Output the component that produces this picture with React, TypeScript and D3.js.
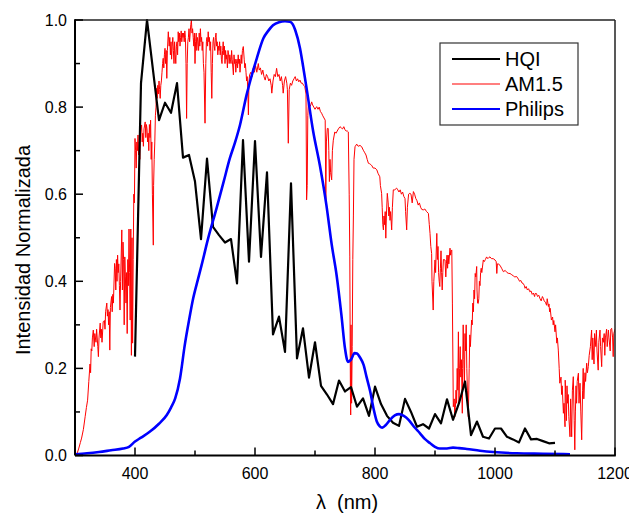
import React from 'react'
import * as d3 from 'd3'

// HQI lamp spectrum (nm, normalized intensity)
const hqiNm = [400, 410, 420, 430, 440, 450, 460, 470, 480, 490, 500, 510, 520, 530, 540, 550, 560, 570, 580, 590, 600, 610, 620, 630, 640, 650, 660, 670, 680, 690, 700, 710, 720, 730, 740, 750, 760, 770, 780, 790, 800, 810, 820, 830, 840, 850, 860, 870, 880, 890, 900, 910, 920, 930, 940, 950, 960, 970, 980, 990, 1000, 1010, 1020, 1030, 1040, 1050, 1060, 1070, 1080, 1090, 1100]
const hqiVal = [0.227, 0.855, 1.0, 0.885, 0.77, 0.81, 0.787, 0.855, 0.684, 0.69, 0.629, 0.497, 0.682, 0.525, 0.506, 0.489, 0.497, 0.395, 0.724, 0.445, 0.722, 0.456, 0.65, 0.278, 0.319, 0.238, 0.625, 0.223, 0.292, 0.179, 0.26, 0.16, 0.14, 0.118, 0.172, 0.147, 0.157, 0.112, 0.131, 0.091, 0.158, 0.118, 0.091, 0.075, 0.068, 0.13, 0.1, 0.066, 0.072, 0.062, 0.095, 0.074, 0.129, 0.082, 0.12, 0.17, 0.047, 0.078, 0.043, 0.039, 0.062, 0.062, 0.043, 0.037, 0.03, 0.062, 0.037, 0.038, 0.033, 0.028, 0.029]

// Philips lamp spectrum
const philipsNm = [300, 320, 340, 360, 380, 390, 400, 410, 425, 440, 453, 460, 467, 475, 483, 490, 497, 505, 511, 522, 536, 548, 558, 567, 575, 586, 592, 603, 614, 622, 630, 640, 650, 658, 663, 667, 675, 680, 686, 697, 708, 719, 728, 736, 744, 750, 755, 760, 766, 770, 775, 781, 786, 792, 798, 803, 808, 812, 818, 825, 833, 840, 848, 856, 865, 875, 883, 892, 900, 908, 920, 930, 940, 953, 975, 997, 1036, 1080, 1125]
const philipsVal = [0.003, 0.005, 0.008, 0.012, 0.016, 0.02, 0.032, 0.041, 0.055, 0.073, 0.093, 0.11, 0.131, 0.177, 0.254, 0.31, 0.361, 0.405, 0.437, 0.499, 0.568, 0.63, 0.682, 0.72, 0.759, 0.828, 0.86, 0.912, 0.958, 0.975, 0.988, 0.995, 0.997, 0.996, 0.99, 0.977, 0.935, 0.895, 0.843, 0.744, 0.667, 0.575, 0.483, 0.414, 0.323, 0.246, 0.215, 0.22, 0.235, 0.234, 0.225, 0.208, 0.18, 0.147, 0.105, 0.078, 0.067, 0.064, 0.07, 0.082, 0.092, 0.095, 0.091, 0.082, 0.066, 0.051, 0.038, 0.028, 0.02, 0.016, 0.016, 0.018, 0.017, 0.015, 0.011, 0.008, 0.005, 0.004, 0.003]

// AM1.5 solar spectrum [nm, value]
const am15: [number, number][] = [
  [300, 0.0], [303, 0.003], [306, 0.015], [309, 0.03], [311, 0.04], [314, 0.06], [317, 0.09], [319, 0.11], [321, 0.127], [323, 0.17], [325, 0.21], [326, 0.19], [327, 0.245], [328, 0.24], [329, 0.27], [330.5, 0.288], [332, 0.25], [333, 0.28], [335, 0.26], [336, 0.29], [338, 0.25], [339, 0.227], [340, 0.27], [342, 0.304], [343, 0.27], [344, 0.29], [345, 0.26], [347, 0.307], [349, 0.31], [350, 0.29], [351, 0.33], [353, 0.35], [354, 0.32], [355, 0.335], [356, 0.3], [357, 0.33], [358, 0.242], [359, 0.34], [361, 0.365], [362, 0.33], [363, 0.37], [364, 0.35], [366, 0.441], [367, 0.43], [368, 0.38], [369, 0.45], [370, 0.4], [371, 0.46], [372, 0.42], [373, 0.44], [374, 0.39], [375, 0.334], [376, 0.4], [378, 0.518], [379, 0.38], [380, 0.49], [381, 0.45], [382, 0.3], [383, 0.456], [384, 0.41], [385, 0.35], [386, 0.42], [387, 0.28], [388, 0.45], [389, 0.39], [390, 0.52], [391, 0.42], [392, 0.311], [393, 0.52], [394, 0.23], [395, 0.5], [396, 0.258], [397, 0.45], [398, 0.6], [399, 0.58],
  [400, 0.728], [401, 0.7], [402, 0.66], [403, 0.72], [404, 0.7], [405, 0.736], [406, 0.69], [407, 0.72], [408, 0.68], [409, 0.74], [411, 0.759], [412, 0.72], [413, 0.74], [414, 0.71], [415, 0.75], [417, 0.766], [418, 0.73], [419, 0.76], [420, 0.75], [421, 0.72], [422, 0.74], [423, 0.7], [424, 0.76], [425, 0.73], [426, 0.77], [427, 0.68], [428, 0.72], [429, 0.6], [430.5, 0.483], [431, 0.62], [432, 0.68], [433, 0.72], [434, 0.78], [435, 0.8], [436, 0.843], [437, 0.82], [438, 0.85], [439, 0.83], [440, 0.86], [441, 0.84], [442, 0.82], [443, 0.85], [444, 0.86], [445, 0.88], [446, 0.9], [447, 0.912], [448, 0.89], [449, 0.92], [450, 0.935], [451, 0.9], [452, 0.93], [453, 0.866], [454, 0.93], [455.5, 0.973], [457, 0.94], [458, 0.96], [459, 0.92], [460, 0.95], [461, 0.91], [462, 0.94], [463, 0.96], [464, 0.93], [465, 0.9], [466, 0.95], [467, 0.92], [468, 0.9], [469, 0.94], [470, 0.95], [471, 0.92], [472, 0.973], [473, 0.95], [474, 0.97], [475, 0.94], [476, 0.96], [477, 0.975], [478, 0.95], [479, 0.97], [480, 0.96], [481, 0.97], [482, 0.95], [483, 0.975], [484, 0.96], [485, 0.9], [486, 0.774], [487, 0.9], [488, 0.95], [489, 0.96], [490, 0.98], [491, 0.95], [492, 0.97], [493, 0.99], [494, 1.0], [495, 0.97], [496, 0.98], [497, 0.96], [498, 0.94], [499, 0.97],
  [500, 0.9], [501, 0.95], [502, 0.97], [503, 0.93], [504, 0.96], [505, 0.95], [506, 0.93], [507, 0.97], [508, 0.94], [509, 0.98], [510, 0.95], [511, 0.96], [512, 0.93], [513, 0.95], [514, 0.9], [515, 0.88], [516.7, 0.763], [518, 0.9], [519, 0.95], [520, 0.96], [521, 0.94], [522, 0.973], [523, 0.95], [524, 0.96], [525, 0.93], [526, 0.95], [527, 0.88], [528, 0.82], [529, 0.9], [530, 0.95], [531, 0.96], [532, 0.94], [533, 0.93], [534, 0.96], [535, 0.97], [536, 0.94], [537, 0.95], [538, 0.92], [539, 0.94], [540, 0.93], [541, 0.95], [542, 0.92], [543, 0.94], [544, 0.91], [545, 0.9], [546, 0.93], [547, 0.95], [548, 0.92], [549, 0.94], [550, 0.9], [551, 0.93], [552, 0.91], [553, 0.92], [554, 0.89], [555, 0.93], [556, 0.92], [557, 0.9], [558, 0.92], [559, 0.91], [560, 0.9], [561, 0.93], [562, 0.91], [564, 0.874], [565, 0.92], [566, 0.9], [567, 0.91], [568, 0.88], [569, 0.9], [570, 0.91], [571, 0.89], [572, 0.92], [573, 0.9], [574, 0.91], [575, 0.88], [576, 0.9], [577, 0.92], [578, 0.9], [579, 0.93], [580.5, 0.939], [582, 0.91], [583, 0.89], [584, 0.9], [585, 0.88], [586, 0.86], [587, 0.87], [588, 0.84], [589, 0.782], [590, 0.86], [591, 0.874], [593, 0.88], [595, 0.87], [597, 0.889], [599, 0.88],
  [601, 0.895], [603, 0.88], [605.5, 0.9], [607, 0.885], [609, 0.89], [611, 0.875], [613, 0.885], [615, 0.87], [617, 0.862], [619, 0.875], [621, 0.87], [623, 0.86], [625, 0.865], [627, 0.85], [628, 0.832], [630, 0.86], [632, 0.875], [634, 0.87], [636, 0.889], [638, 0.87], [640, 0.875], [642, 0.86], [644, 0.87], [646, 0.85], [647, 0.832], [649, 0.86], [651, 0.87], [653, 0.855], [654, 0.84], [655.5, 0.717], [657, 0.84], [659, 0.855], [661, 0.85], [663, 0.86], [665, 0.865], [667, 0.87], [669, 0.86], [671, 0.865], [673, 0.858], [675, 0.862], [677, 0.855], [679, 0.855], [681, 0.85], [683, 0.847], [685, 0.83], [686, 0.587], [687, 0.62], [688, 0.78], [689, 0.809], [691, 0.8], [693, 0.805], [694.5, 0.812], [696, 0.805], [698, 0.8], [700, 0.795], [702.8, 0.801], [705, 0.795], [707, 0.8], [709, 0.79], [711, 0.786], [713, 0.78], [715, 0.775], [717, 0.77], [718, 0.587], [719, 0.72], [720.5, 0.751], [722, 0.751], [723, 0.7], [724, 0.629], [725, 0.68], [726, 0.65], [727.8, 0.633], [729, 0.7], [730.5, 0.724], [733, 0.743], [735, 0.74], [737, 0.745], [739, 0.75], [741.7, 0.755], [744, 0.752], [746, 0.75], [748, 0.755], [750, 0.748], [752, 0.745], [754, 0.745], [755.5, 0.743], [757, 0.6], [758, 0.456], [759, 0.15], [759.5, 0.093], [760, 0.3], [761, 0.12], [762, 0.25], [763, 0.45], [764, 0.55], [765, 0.68], [766.7, 0.709], [769.5, 0.715], [772, 0.71], [775, 0.712], [777.8, 0.709], [780.5, 0.701], [783, 0.695], [785, 0.69], [787, 0.68], [789, 0.671], [791, 0.67], [793, 0.668], [795, 0.665], [797, 0.66],
  [800, 0.66], [803, 0.656], [805, 0.648], [808, 0.64], [809, 0.62], [811, 0.602], [812, 0.57], [813, 0.53], [814, 0.518], [815, 0.55], [816, 0.53], [817, 0.56], [818, 0.499], [819, 0.55], [820.5, 0.602], [822, 0.58], [823, 0.55], [824, 0.57], [825, 0.54], [826, 0.56], [827.8, 0.518], [829, 0.57], [830.5, 0.61], [833, 0.61], [836, 0.614], [838, 0.61], [840, 0.605], [842, 0.61], [844, 0.6], [846, 0.605], [848, 0.595], [850, 0.59], [851, 0.56], [852.8, 0.518], [854, 0.57], [856, 0.6], [858, 0.602], [860, 0.6], [862, 0.58], [864, 0.606], [866, 0.6], [868, 0.59], [870, 0.585], [872, 0.575], [874, 0.58], [876, 0.57], [878, 0.565], [880.5, 0.564], [883, 0.566], [886, 0.56], [889, 0.556], [890.5, 0.53], [891.7, 0.51], [893, 0.48], [894.4, 0.464], [895, 0.4], [897, 0.334], [898, 0.4], [900, 0.449], [901, 0.42], [903, 0.51], [904, 0.45], [905, 0.48], [906, 0.42], [907, 0.4], [908, 0.388], [909, 0.43], [910, 0.47], [911, 0.42], [912, 0.38], [913, 0.42], [914, 0.45], [916.7, 0.449], [918, 0.41], [919, 0.44], [920, 0.46], [921, 0.43], [922, 0.46], [923, 0.44], [925, 0.476], [926, 0.46], [927, 0.47], [928, 0.472], [929, 0.35], [930.5, 0.112], [932, 0.13], [933, 0.089], [934, 0.11], [935, 0.15], [936, 0.12], [937, 0.2], [938, 0.15], [939, 0.284], [940, 0.12], [941, 0.2], [942, 0.25], [943, 0.18], [944, 0.22], [945.5, 0.097], [946, 0.2], [947, 0.3], [948, 0.22], [949, 0.158], [950, 0.28], [951, 0.24], [952, 0.3], [953, 0.2], [954, 0.15], [955.5, 0.089], [957, 0.2], [958, 0.277], [959, 0.25], [961, 0.311], [962, 0.3], [963, 0.35], [964, 0.33], [965, 0.38], [966, 0.36], [967, 0.418], [968, 0.41], [969.5, 0.434], [970, 0.38], [971, 0.35], [972, 0.349], [973, 0.36], [974, 0.4], [975, 0.39], [976, 0.42], [977, 0.43], [978, 0.42], [980.5, 0.449], [982, 0.445], [984, 0.45], [986, 0.456], [988, 0.452], [990, 0.455], [991.7, 0.456], [994, 0.452], [997, 0.452],
  [1000, 0.449], [1002, 0.445], [1003, 0.418], [1004, 0.44], [1006, 0.44], [1009, 0.435], [1011, 0.43], [1014, 0.422], [1017, 0.425], [1020, 0.42], [1023, 0.418], [1025, 0.418], [1028, 0.415], [1031, 0.412], [1033, 0.41], [1036, 0.411], [1039, 0.405], [1041, 0.4], [1043, 0.402], [1045, 0.396], [1047, 0.395], [1049, 0.39], [1050, 0.384], [1052, 0.388], [1054, 0.38], [1056, 0.383], [1058, 0.376], [1060, 0.378], [1062, 0.37], [1064, 0.373], [1066, 0.365], [1067, 0.372], [1069, 0.372], [1071, 0.365], [1073, 0.368], [1075, 0.36], [1077, 0.355], [1079, 0.365], [1080.5, 0.361], [1082, 0.355], [1084, 0.352], [1086, 0.345], [1087, 0.36], [1089, 0.342], [1090, 0.348], [1091, 0.33], [1092, 0.338], [1094, 0.311], [1096, 0.318], [1097, 0.3], [1098, 0.31], [1100, 0.284], [1101, 0.3], [1103, 0.258], [1104, 0.27], [1105.5, 0.242], [1107, 0.2], [1108, 0.166], [1110, 0.18], [1111, 0.14], [1112, 0.16], [1114, 0.097], [1115, 0.12], [1116.7, 0.066], [1117, 0.173], [1118, 0.14], [1119, 0.08], [1120, 0.16], [1121, 0.12], [1122, 0.14], [1123, 0.09], [1125, 0.043], [1126, 0.13], [1127.8, 0.043], [1129, 0.15], [1130.5, 0.181], [1132, 0.08], [1133, 0.013], [1134, 0.1], [1135, 0.16], [1136, 0.12], [1137, 0.17], [1139, 0.189], [1140, 0.12], [1141.7, 0.166], [1143, 0.1], [1144.5, 0.036], [1146, 0.15], [1147, 0.2], [1148, 0.13], [1150, 0.19], [1151, 0.17], [1152.8, 0.212], [1154, 0.19], [1155.5, 0.204], [1157, 0.23], [1159, 0.25], [1161, 0.288], [1162, 0.22], [1163, 0.27], [1164, 0.24], [1165, 0.21], [1166, 0.28], [1168, 0.25], [1169, 0.288], [1170, 0.24], [1172, 0.196], [1173, 0.26], [1175, 0.288], [1176, 0.25], [1177.8, 0.204], [1179, 0.27], [1180.5, 0.26], [1182, 0.28], [1183, 0.23], [1184, 0.27], [1186, 0.29], [1187, 0.25], [1189, 0.288], [1190, 0.27], [1192, 0.24], [1193, 0.29], [1194.5, 0.292], [1196, 0.27], [1197, 0.227], [1198, 0.28], [1200, 0.29],
]

const xMajor = [400, 600, 800, 1000, 1200]
const xMinor = [500, 700, 900, 1100]
const yMajor = [0, 0.2, 0.4, 0.6, 0.8, 1.0]
const yMinor = [0.1, 0.3, 0.5, 0.7, 0.9]
const seriesNames = ['HQI', 'AM1.5', 'Philips']
const seriesColors = ['#000000', '#ff0000', '#0000ff']

const W = 629
const H = 514
const margin = { top: 20, right: 14, bottom: 58.5, left: 75 }
const font = 'Arial, "Liberation Sans", sans-serif'

export default function App() {
  const x = d3.scaleLinear().domain([300, 1200]).range([margin.left, W - margin.right])
  const y = d3.scaleLinear().domain([0, 1]).range([H - margin.bottom, margin.top])
  const [x0, x1] = x.range()
  const [y0, y1] = y.range()

  const line = d3
    .line<[number, number]>()
    .x((d) => x(d[0]))
    .y((d) => y(d[1]))

  const hqi = hqiNm.map((n, i) => [n, hqiVal[i]] as [number, number])
  const philips = philipsNm.map((n, i) => [n, philipsVal[i]] as [number, number])
  const smooth = line.curve(d3.curveMonotoneX)(philips)
  line.curve(d3.curveLinear)

  return (
    <svg width={W} height={H} style={{ position: 'absolute', left: 0, top: 0, background: '#fff' }} fontFamily={font}>
      <defs>
        <clipPath id="plot">
          <rect x={x0} y={y1 - 1} width={x1 - x0} height={y0 - y1 + 1} />
        </clipPath>
      </defs>

      <g clipPath="url(#plot)" fill="none" strokeLinejoin="round">
        <path d={line(am15) || ''} stroke={seriesColors[1]} strokeWidth={1} />
        <path d={line(hqi) || ''} stroke={seriesColors[0]} strokeWidth={2.2} />
        <path d={smooth || ''} stroke={seriesColors[2]} strokeWidth={2.6} />
      </g>

      {/* frame */}
      <line x1={x0} x2={x1} y1={y1} y2={y1} stroke="#222" strokeWidth={1.5} />
      <line x1={x1} x2={x1} y1={y1} y2={y0} stroke="#222" strokeWidth={1.5} />
      <line x1={x0} x2={x1 + 0.75} y1={y0} y2={y0} stroke="#000" strokeWidth={2} />
      <line x1={x0} x2={x0} y1={y1 - 0.75} y2={y0} stroke="#000" strokeWidth={2} />

      {/* ticks, drawn inward */}
      {xMajor.map((v) => (
        <line key={'xM' + v} x1={x(v)} x2={x(v)} y1={y0} y2={y0 - 8} stroke="#000" strokeWidth={1.5} />
      ))}
      {xMinor.map((v) => (
        <line key={'xm' + v} x1={x(v)} x2={x(v)} y1={y0} y2={y0 - 5} stroke="#000" strokeWidth={1.5} />
      ))}
      {yMajor.map((v) => (
        <line key={'yM' + v} x1={x0} x2={x0 + 8} y1={y(v)} y2={y(v)} stroke="#000" strokeWidth={1.5} />
      ))}
      {yMinor.map((v) => (
        <line key={'ym' + v} x1={x0} x2={x0 + 5} y1={y(v)} y2={y(v)} stroke="#000" strokeWidth={1.5} />
      ))}

      {xMajor.map((v) => (
        <text key={'xl' + v} x={x(v)} y={y0 + 23.5} textAnchor="middle" fontSize={16} fill="#000">
          {v}
        </text>
      ))}
      {yMajor.map((v) => (
        <text key={'yl' + v} x={x0 - 8} y={y(v) + 5.5} textAnchor="end" fontSize={16} fill="#000">
          {v.toFixed(1)}
        </text>
      ))}

      <text x={347} y={509} textAnchor="middle" fontSize={20} fill="#000" style={{ whiteSpace: 'pre' }}>
        {'λ  (nm)'}
      </text>
      <text transform="translate(30,250) rotate(-90)" textAnchor="middle" fontSize={20} fill="#000">
        Intensidad Normalizada
      </text>

      {/* legend */}
      <rect x={440} y={43} width={138} height={82} fill="#fff" stroke="#333" strokeWidth={1.2} />
      {seriesNames.map((name, i) => {
        const ly = 59 + i * 25
        return (
          <g key={name}>
            <line x1={452} x2={500} y1={ly} y2={ly} stroke={seriesColors[i]} strokeWidth={i === 1 ? 1.2 : 2} />
            <text x={505} y={ly + 7} fontSize={20} fill="#000">
              {name}
            </text>
          </g>
        )
      })}
    </svg>
  )
}
